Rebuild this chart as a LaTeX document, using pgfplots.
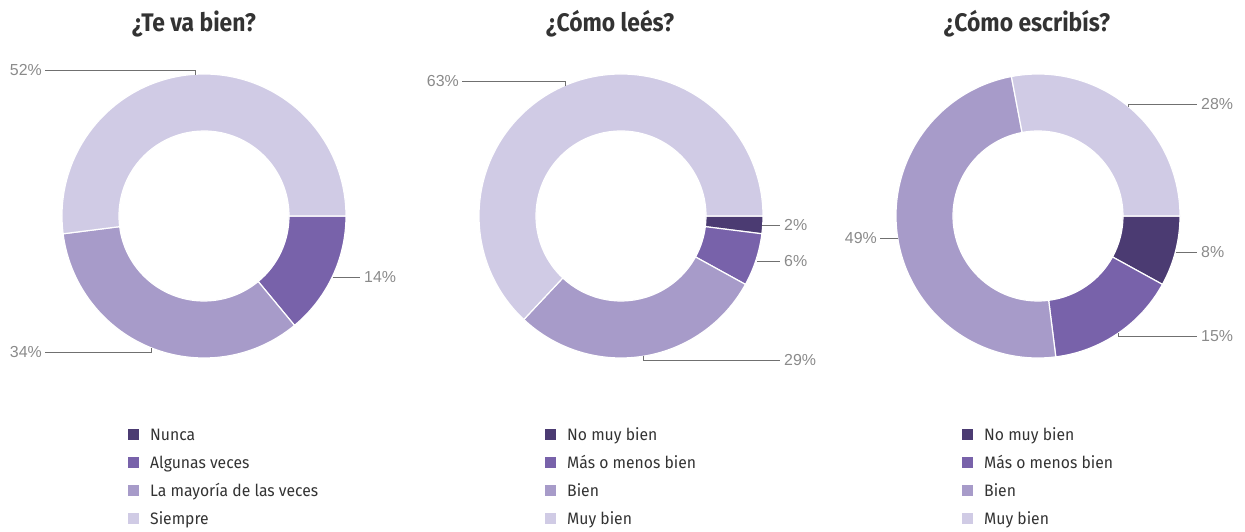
\documentclass[border=0pt]{standalone}
\usepackage{pgfplots}
\pgfplotsset{compat=1.18}
\usepackage{fontspec}
\setmainfont{Fira Sans}
\newfontfamily\pctfont{Liberation Sans}
\newfontfamily\titlefont[FakeStretch=0.9]{Fira Sans}
\newfontfamily\legfont[FakeStretch=0.95]{Fira Sans}

\definecolor{c1}{HTML}{4B3B72}
\definecolor{c2}{HTML}{7862AA}
\definecolor{c3}{HTML}{A79BC9}
\definecolor{c4}{HTML}{D0CBE5}
\definecolor{leader}{HTML}{707070}
\definecolor{pct}{HTML}{8A8A8A}
\definecolor{ttl}{HTML}{333333}
\definecolor{legtxt}{HTML}{333333}

% shares (percent) of each answer, clockwise from three o'clock
\def\dataA{14/c2,34/c3,52/c4}
\def\dataB{2/c1,6/c2,29/c3,63/c4}
\def\dataC{8/c1,15/c2,49/c3,28/c4}

\def\rout{142}
\def\rin{85}

% #1,#2: centre in axis units; #3: list of value/colour
\newcommand\donut[3]{%
  \gdef\cum{0}%
  \foreach \v/\c in #3 {%
    \pgfmathsetmacro\aone{-3.6*\cum}%
    \pgfmathsetmacro\atwo{-3.6*(\cum+\v)}%
    \pgfmathsetmacro\xa{#1+\rout*cos(\aone)}%
    \pgfmathsetmacro\ya{#2+\rout*sin(\aone)}%
    \pgfmathsetmacro\xb{#1+\rin*cos(\atwo)}%
    \pgfmathsetmacro\yb{#2+\rin*sin(\atwo)}%
    \edef\tmp{\noexpand\fill[\c, draw=white, line width=1.2pt]
      (axis cs:\xa,\ya) arc[start angle=\aone, end angle=\atwo, radius=\rout bp]
      -- (axis cs:\xb,\yb) arc[start angle=\atwo, end angle=\aone, radius=\rin bp] -- cycle;}%
    \tmp
    \pgfmathsetmacro\newcum{\cum+\v}%
    \global\let\cum\newcum
  }%
}

% legend block: #1 x of squares, #2..#5 entries
\newcommand\legendblock[5]{%
  \fill[c1] (axis cs:#1,91.5) rectangle (axis cs:#1+11,102.5);
  \fill[c2] (axis cs:#1,63.5) rectangle (axis cs:#1+11,74.5);
  \fill[c3] (axis cs:#1,35.5) rectangle (axis cs:#1+11,46.5);
  \fill[c4] (axis cs:#1,7.5) rectangle (axis cs:#1+11,18.5);
  \node[legl] at (axis cs:#1+22,91) {#2};
  \node[legl] at (axis cs:#1+22,63) {#3};
  \node[legl] at (axis cs:#1+22,35) {#4};
  \node[legl] at (axis cs:#1+22,7) {#5};
}

\tikzset{
  lead/.style={draw=leader, line width=0.9pt},
  pctl/.style={inner sep=0, text=pct, font=\pctfont\fontsize{16}{16}\selectfont},
  legl/.style={anchor=base west, inner sep=0, text=legtxt, font=\legfont\fontsize{16.6}{16.6}\selectfont},
  ttlstyle/.style={anchor=base, inner sep=0, text=ttl, font=\titlefont\bfseries\fontsize{25.5}{25.5}\selectfont},
}

\begin{document}
\begin{tikzpicture}
\begin{axis}[
  x=1bp, y=1bp, xmin=0, xmax=1245, ymin=0, ymax=532,
  scale only axis, hide axis, clip=false,
]
\path (axis cs:0,0) rectangle (axis cs:1245,532);

% ---- ¿Te va bien? ----
\node[ttlstyle] at (axis cs:194,500) {¿Te va bien?};
\donut{204}{316}{\dataA}
\draw[lead] (axis cs:195,457) -- (axis cs:195,462) -- (axis cs:45,462);
\node[pctl, anchor=east] at (axis cs:42,462) {52\%};
\draw[lead] (axis cs:333,255) -- (axis cs:360,255);
\node[pctl, anchor=west] at (axis cs:364,255) {14\%};
\draw[lead] (axis cs:151,184) -- (axis cs:151,180) -- (axis cs:45,180);
\node[pctl, anchor=east] at (axis cs:42,180) {34\%};
\legendblock{128}{Nunca}{Algunas veces}{La mayoría de las veces}{Siempre}

% ---- ¿Cómo leés? ----
\node[ttlstyle] at (axis cs:610,500) {¿Cómo leés?};
\donut{621}{316}{\dataB}
\draw[lead] (axis cs:565,446) -- (axis cs:565,451) -- (axis cs:462,451);
\node[pctl, anchor=east] at (axis cs:459,451) {63\%};
\draw[lead] (axis cs:762,307) -- (axis cs:780,307);
\node[pctl, anchor=west] at (axis cs:784,307) {2\%};
\draw[lead] (axis cs:757,271) -- (axis cs:780,271);
\node[pctl, anchor=west] at (axis cs:784,271) {6\%};
\draw[lead] (axis cs:643,176) -- (axis cs:643,172) -- (axis cs:780,172);
\node[pctl, anchor=west] at (axis cs:784,172) {29\%};
\legendblock{545}{No muy bien}{Más o menos bien}{Bien}{Muy bien}

% ---- ¿Cómo escribís? ----
\node[ttlstyle] at (axis cs:1027,500) {¿Cómo escribís?};
\donut{1038}{316}{\dataC}
\draw[lead] (axis cs:1128,425) -- (axis cs:1128,428) -- (axis cs:1197,428);
\node[pctl, anchor=west] at (axis cs:1201,428) {28\%};
\draw[lead] (axis cs:1176,280) -- (axis cs:1197,280);
\node[pctl, anchor=west] at (axis cs:1201,280) {8\%};
\draw[lead] (axis cs:1118,199) -- (axis cs:1118,196) -- (axis cs:1197,196);
\node[pctl, anchor=west] at (axis cs:1201,196) {15\%};
\draw[lead] (axis cs:898,294) -- (axis cs:880,294);
\node[pctl, anchor=east] at (axis cs:877,294) {49\%};
\legendblock{962}{No muy bien}{Más o menos bien}{Bien}{Muy bien}
\end{axis}
\end{tikzpicture}
\end{document}
